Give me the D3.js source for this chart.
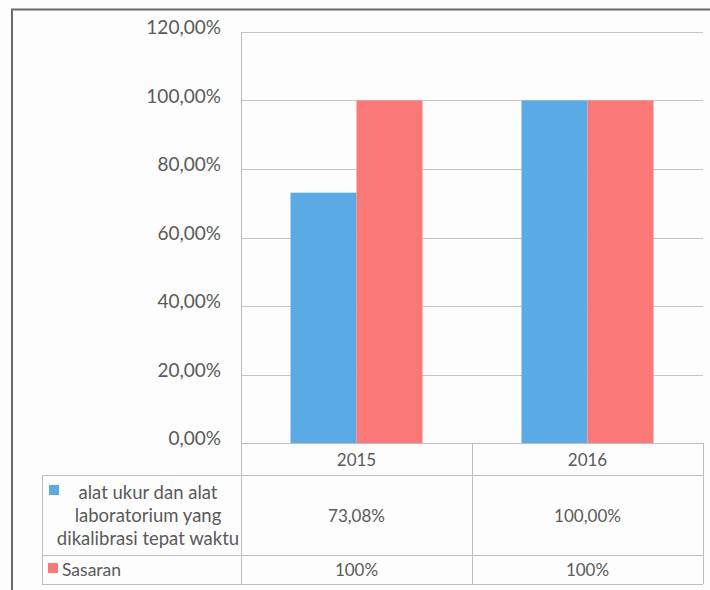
<!DOCTYPE html>
<html>
<head>
<meta charset="utf-8">
<script src="https://cdn.jsdelivr.net/npm/d3@7"></script>
<style>
  html, body { margin: 0; padding: 0; background: #fdfdfd; }
  svg { display: block; }
  text { font-family: Lato, "Open Sans", sans-serif; fill: #5a5a5a; }
</style>
</head>
<body>
<svg id="chart" width="710" height="590"></svg>
<script>
// Categories, series and tick labels
const years = ["2015", "2016"];
const seriesNames = ["alat ukur dan alat laboratorium yang dikalibrasi tepat waktu", "Sasaran"];
const seriesLegendLines = [["alat ukur dan alat", "laboratorium yang", "dikalibrasi tepat waktu"], ["Sasaran"]];
const kalibrasi = [73.08, 100.00];
const sasaran = [100, 100];
const tableRowText = [["73,08%", "100,00%"], ["100%", "100%"]];
const yTicks = [0, 20, 40, 60, 80, 100, 120];
const colors = ["#5aaae6", "#fb7878"];

const svg = d3.select("#chart");

// Plot frame
const plot = { left: 241, right: 703, top: 32, bottom: 443 };

// Outer chart border
svg.append("path")
  .attr("d", "M12,590 L12,9.5 L710,9.5")
  .attr("fill", "none")
  .attr("stroke", "#6b6b6b")
  .attr("stroke-width", 2);

const x = d3.scaleBand().domain(years).range([plot.left, plot.right]).paddingInner(0).paddingOuter(0);
const y = d3.scaleLinear().domain([0, 120]).range([plot.bottom, plot.top]);

const fmt = v => d3.format(".2f")(v).replace(".", ",") + "%";

// Horizontal gridlines
svg.append("g")
  .selectAll("line")
  .data(yTicks.filter(t => t > 0))
  .join("line")
  .attr("x1", plot.left).attr("x2", plot.right)
  .attr("y1", d => Math.round(y(d)) + 0.5).attr("y2", d => Math.round(y(d)) + 0.5)
  .attr("stroke", "#c4c4c4").attr("stroke-width", 1);

// Y axis
const yAxis = d3.axisLeft(y).tickValues(yTicks).tickFormat(fmt).tickSize(0).tickPadding(20);
const gy = svg.append("g").attr("transform", `translate(${plot.left},0)`).call(yAxis);
gy.select(".domain").remove();
gy.selectAll("text").style("font-size", "19px").attr("fill", "#5a5a5a").attr("dy", "0.1em");

// Bars
const series = [kalibrasi, sasaran];
const barGroupWidth = 132;
series.forEach((vals, si) => {
  svg.append("g")
    .selectAll("rect")
    .data(years.map((yr, i) => ({ yr, v: vals[i] })))
    .join("rect")
    .attr("x", d => x(d.yr) + x.bandwidth() / 2 - barGroupWidth / 2 + si * barGroupWidth / 2)
    .attr("width", barGroupWidth / 2)
    .attr("y", d => y(d.v))
    .attr("height", d => y(0) - y(d.v))
    .attr("fill", colors[si]);
});

// Left axis line
svg.append("line")
  .attr("x1", plot.left + 0.5).attr("x2", plot.left + 0.5)
  .attr("y1", plot.top).attr("y2", 584)
  .attr("stroke", "#bdbdbd");

// Data table
const tableLeft = 42;
const rows = [443, 475, 555, 584];
const lineColor = "#bdbdbd";
const t = svg.append("g");
// horizontal table lines
t.append("line").attr("x1", plot.left).attr("x2", plot.right).attr("y1", rows[0] + 0.5).attr("y2", rows[0] + 0.5).attr("stroke", lineColor);
[rows[1], rows[2], rows[3]].forEach(r => {
  t.append("line").attr("x1", tableLeft).attr("x2", plot.right).attr("y1", r + 0.5).attr("y2", r + 0.5).attr("stroke", lineColor);
});
// vertical table lines
t.append("line").attr("x1", tableLeft + 0.5).attr("x2", tableLeft + 0.5).attr("y1", rows[1]).attr("y2", rows[3]).attr("stroke", lineColor);
years.forEach(yr => {
  const xr = x(yr) + x.bandwidth();
  t.append("line").attr("x1", Math.round(xr) + 0.5).attr("x2", Math.round(xr) + 0.5).attr("y1", rows[0]).attr("y2", rows[3]).attr("stroke", lineColor);
});

// Year headers
t.selectAll("text.yr")
  .data(years)
  .join("text")
  .attr("class", "yr")
  .attr("x", d => x(d) + x.bandwidth() / 2)
  .attr("y", (rows[0] + rows[1]) / 2)
  .attr("text-anchor", "middle").attr("dominant-baseline", "central")
  .style("font-size", "17px")
  .text(d => d);

// Value rows
tableRowText.forEach((rowVals, ri) => {
  t.selectAll(`text.v${ri}`)
    .data(rowVals)
    .join("text")
    .attr("class", `v${ri}`)
    .attr("x", (d, i) => x(years[i]) + x.bandwidth() / 2)
    .attr("y", (rows[ri + 1] + rows[ri + 2]) / 2)
    .attr("text-anchor", "middle").attr("dominant-baseline", "central")
    .style("font-size", "17px")
    .text(d => d);
});

// Legend keys and series names
t.append("rect").attr("x", 49).attr("y", 485).attr("width", 10).attr("height", 10).attr("fill", colors[0]);
t.append("text")
  .attr("text-anchor", "middle")
  .style("font-size", "18.5px")
  .selectAll("tspan")
  .data(seriesLegendLines[0])
  .join("tspan")
  .attr("x", 148)
  .attr("y", (d, i) => 492 + i * 23)
  .attr("dominant-baseline", "central")
  .text(d => d);

t.append("rect").attr("x", 48).attr("y", 563).attr("width", 10).attr("height", 10).attr("fill", colors[1]);
t.append("text")
  .attr("x", 62).attr("y", 569.5)
  .attr("dominant-baseline", "central")
  .style("font-size", "17.5px")
  .text(seriesLegendLines[1][0]);
</script>
</body>
</html>
